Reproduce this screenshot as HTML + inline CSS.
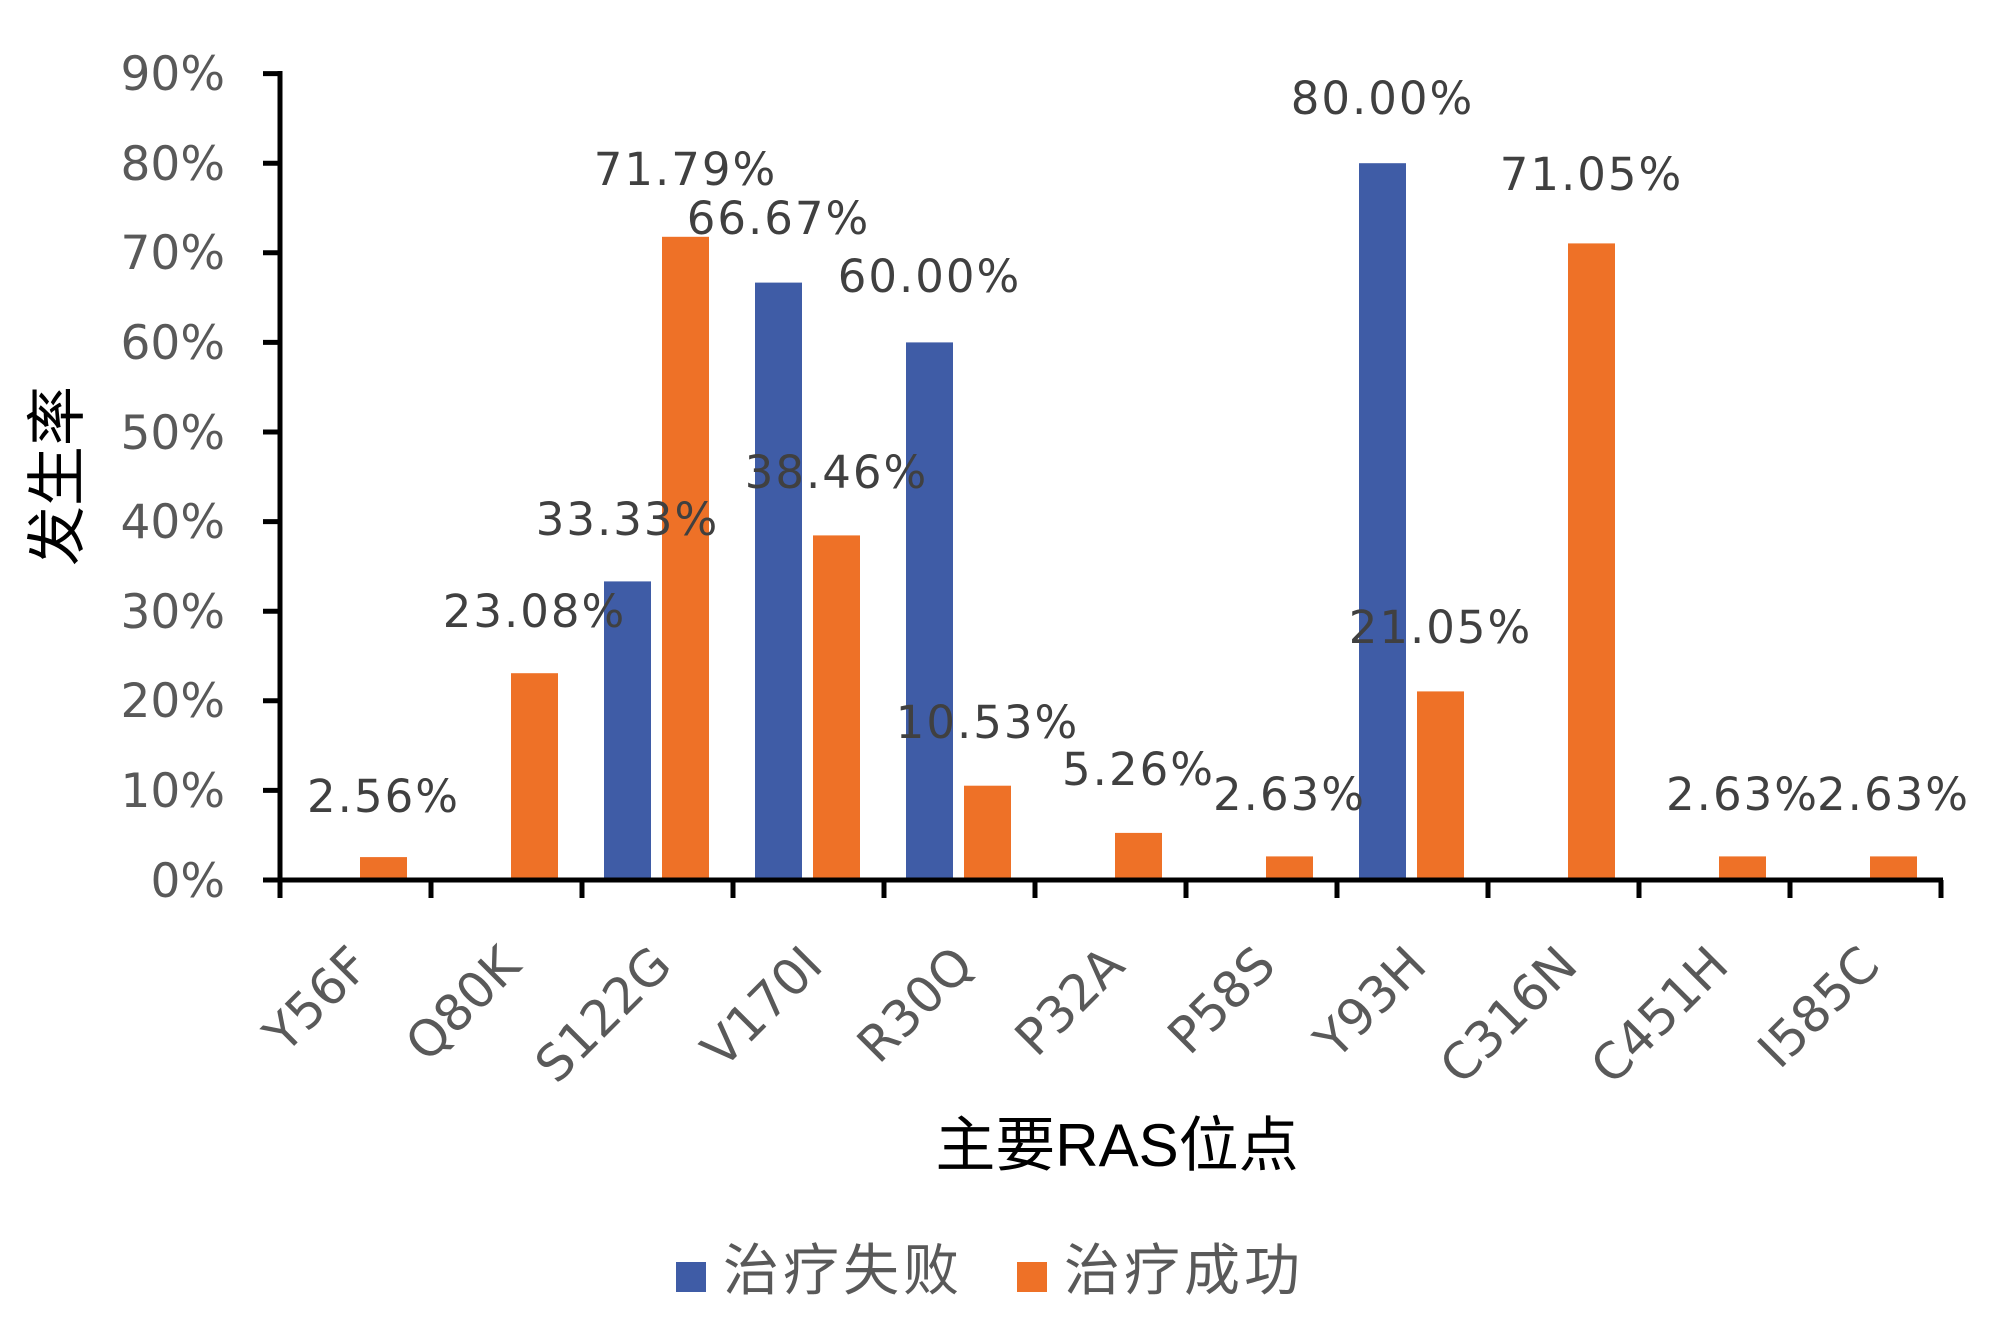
<!DOCTYPE html>
<html><head><meta charset="utf-8"><style>
html,body{margin:0;padding:0;background:#fff;}
svg{display:block;}
.t{font-family:"DejaVu Sans","Liberation Sans",sans-serif;font-size:47px;fill:#595959;}
.x{font-family:"DejaVu Sans","Liberation Sans",sans-serif;font-size:50px;fill:#595959;}
.d{font-family:"DejaVu Sans","Liberation Sans",sans-serif;font-size:45px;fill:#404040;letter-spacing:2px;text-anchor:middle;}
.c{font-family:"Liberation Sans","Noto Sans CJK SC",sans-serif;}
</style></head><body>
<svg width="2008" height="1335" viewBox="0 0 2008 1335" xmlns="http://www.w3.org/2000/svg">
<rect width="2008" height="1335" fill="#fff"/>
<g fill="#ee7127">
<rect x="360" y="857.1" width="47" height="22.9"/>
<rect x="511" y="673.2" width="47" height="206.8"/>
<rect x="662" y="236.8" width="47" height="643.2"/>
<rect x="813" y="535.4" width="47" height="344.6"/>
<rect x="964" y="785.7" width="47" height="94.3"/>
<rect x="1115" y="832.9" width="47" height="47.1"/>
<rect x="1266" y="856.4" width="47" height="23.6"/>
<rect x="1417" y="691.4" width="47" height="188.6"/>
<rect x="1568" y="243.4" width="47" height="636.6"/>
<rect x="1719" y="856.4" width="47" height="23.6"/>
<rect x="1870" y="856.4" width="47" height="23.6"/>
</g>
<g fill="#3f5ca6">
<rect x="604" y="581.4" width="47" height="298.6"/>
<rect x="755" y="282.6" width="47" height="597.4"/>
<rect x="906" y="342.4" width="47" height="537.6"/>
<rect x="1359" y="163.2" width="47" height="716.8"/>
</g>
<g stroke="#000" stroke-width="5">
<line x1="280" y1="71" x2="280" y2="898"/>
<line x1="278" y1="880" x2="1943" y2="880"/>
<line x1="263" y1="73.6" x2="280" y2="73.6"/>
<line x1="263" y1="163.2" x2="280" y2="163.2"/>
<line x1="263" y1="252.8" x2="280" y2="252.8"/>
<line x1="263" y1="342.4" x2="280" y2="342.4"/>
<line x1="263" y1="432" x2="280" y2="432"/>
<line x1="263" y1="521.6" x2="280" y2="521.6"/>
<line x1="263" y1="611.2" x2="280" y2="611.2"/>
<line x1="263" y1="700.8" x2="280" y2="700.8"/>
<line x1="263" y1="790.4" x2="280" y2="790.4"/>
<line x1="263" y1="880" x2="280" y2="880"/>
<line x1="431" y1="880" x2="431" y2="898"/>
<line x1="582" y1="880" x2="582" y2="898"/>
<line x1="733" y1="880" x2="733" y2="898"/>
<line x1="884" y1="880" x2="884" y2="898"/>
<line x1="1035" y1="880" x2="1035" y2="898"/>
<line x1="1186" y1="880" x2="1186" y2="898"/>
<line x1="1337" y1="880" x2="1337" y2="898"/>
<line x1="1488" y1="880" x2="1488" y2="898"/>
<line x1="1639" y1="880" x2="1639" y2="898"/>
<line x1="1790" y1="880" x2="1790" y2="898"/>
<line x1="1941" y1="880" x2="1941" y2="898"/>
</g>
<g class="t" text-anchor="end">
<text x="225" y="90">90%</text>
<text x="225" y="180">80%</text>
<text x="225" y="269">70%</text>
<text x="225" y="359">60%</text>
<text x="225" y="449">50%</text>
<text x="225" y="538">40%</text>
<text x="225" y="628">30%</text>
<text x="225" y="717">20%</text>
<text x="225" y="807">10%</text>
<text x="225" y="897">0%</text>
</g>
<g class="x" text-anchor="end">
<text transform="translate(372,968) rotate(-45)">Y56F</text>
<text transform="translate(523,968) rotate(-45)">Q80K</text>
<text transform="translate(674,968) rotate(-45)">S122G</text>
<text transform="translate(825,968) rotate(-45)">V170I</text>
<text transform="translate(976,968) rotate(-45)">R30Q</text>
<text transform="translate(1127,968) rotate(-45)">P32A</text>
<text transform="translate(1278,968) rotate(-45)">P58S</text>
<text transform="translate(1429,968) rotate(-45)">Y93H</text>
<text transform="translate(1580,968) rotate(-45)">C316N</text>
<text transform="translate(1731,968) rotate(-45)">C451H</text>
<text transform="translate(1882,968) rotate(-45)">I585C</text>
</g>
<g class="d">
<text x="383.5" y="812">2.56%</text>
<text x="534.5" y="627">23.08%</text>
<text x="627.5" y="535">33.33%</text>
<text x="685.5" y="185">71.79%</text>
<text x="778.5" y="234">66.67%</text>
<text x="836.5" y="488">38.46%</text>
<text x="929.5" y="292">60.00%</text>
<text x="987.5" y="738">10.53%</text>
<text x="1138.5" y="785">5.26%</text>
<text x="1289.5" y="810">2.63%</text>
<text x="1382.5" y="114">80.00%</text>
<text x="1440.5" y="643">21.05%</text>
<text x="1591.5" y="190">71.05%</text>
<text x="1742.5" y="810">2.63%</text>
<text x="1893.5" y="810">2.63%</text>
</g>
<text class="c" x="1117" y="1166" font-size="60" fill="#000" text-anchor="middle">主要RAS位点</text>
<text class="c" transform="translate(78,476) rotate(-90)" font-size="60" fill="#000" text-anchor="middle">发生率</text>
<rect x="676" y="1262" width="30" height="30" fill="#3f5ca6"/>
<text class="c" x="723" y="1290" font-size="56" letter-spacing="4" fill="#595959">治疗失败</text>
<rect x="1017" y="1262" width="30" height="30" fill="#ee7127"/>
<text class="c" x="1064" y="1290" font-size="56" letter-spacing="4" fill="#595959">治疗成功</text>
</svg>
</body></html>
